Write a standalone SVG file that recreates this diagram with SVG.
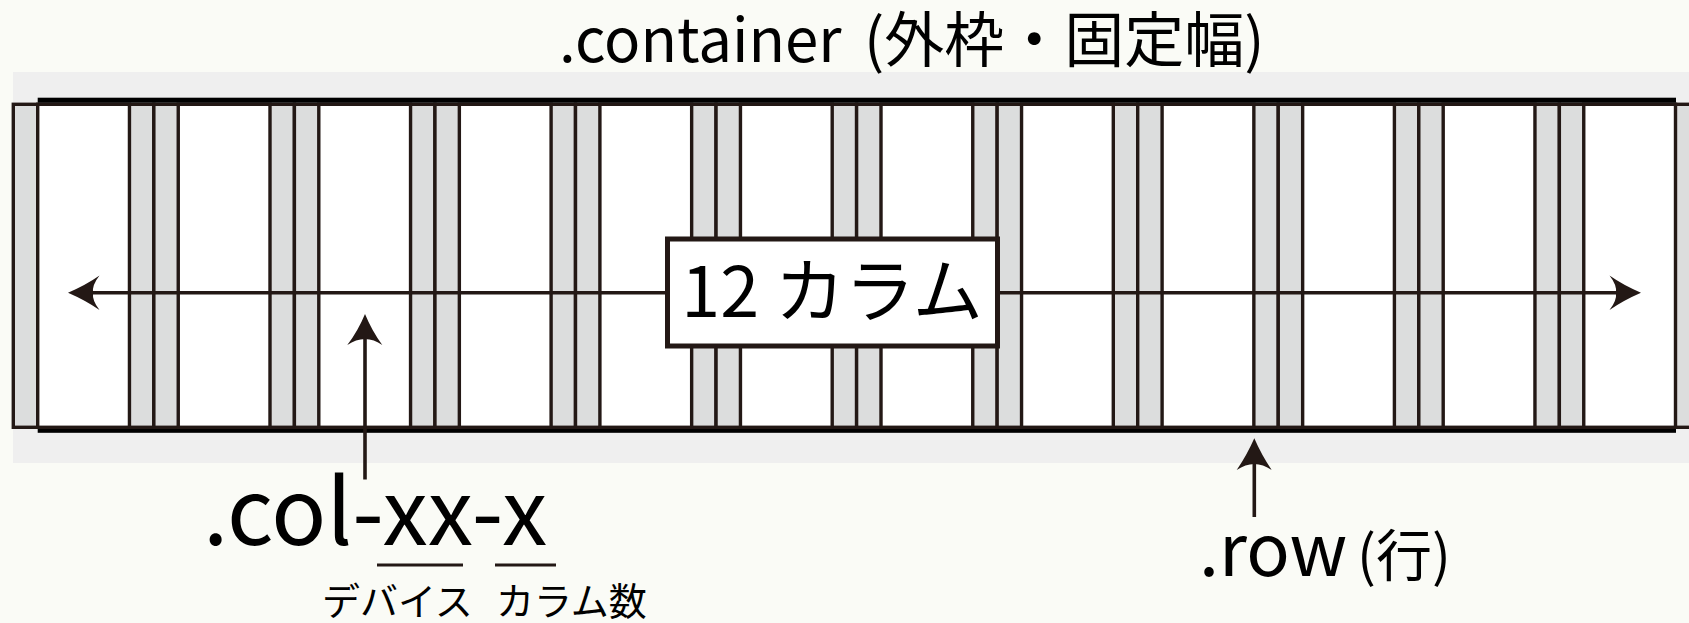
<svg xmlns="http://www.w3.org/2000/svg" width="1689" height="623" viewBox="0 0 1689 623">
<defs>
<style>
.pad{fill:#dcdddd;stroke:#231815;stroke-width:3.4}
.cnt{fill:#ffffff;stroke:#231815;stroke-width:3.4}
.ln{stroke:#231815;stroke-width:3.6;fill:none}
.ah{fill:#231815}
.t{font-family:"Noto Sans CJK JP","Noto Sans",sans-serif;fill:#000}
</style>
</defs>
<rect x="0" y="0" width="1689" height="623" fill="#fafbf6"/>
<rect id="container" x="13" y="72" width="1676" height="391" fill="#efefef"/>
<g id="title"><text class="t" y="62" font-size="60"><tspan x="559">.container</tspan><tspan x="864">(外枠・固定幅)</tspan></text></g>
<g id="columns">
<g id="col-1"><rect class="pad" x="13.3" y="104.3" width="140.55" height="323"/><rect class="cnt" x="37.7" y="104.3" width="91.75" height="323"/></g>
<g id="col-2"><rect class="pad" x="153.85" y="104.3" width="140.55" height="323"/><rect class="cnt" x="178.25" y="104.3" width="91.75" height="323"/></g>
<g id="col-3"><rect class="pad" x="294.4" y="104.3" width="140.55" height="323"/><rect class="cnt" x="318.8" y="104.3" width="91.75" height="323"/></g>
<g id="col-4"><rect class="pad" x="434.95" y="104.3" width="140.55" height="323"/><rect class="cnt" x="459.35" y="104.3" width="91.75" height="323"/></g>
<g id="col-5"><rect class="pad" x="575.5" y="104.3" width="140.55" height="323"/><rect class="cnt" x="599.9" y="104.3" width="91.75" height="323"/></g>
<g id="col-6"><rect class="pad" x="716.05" y="104.3" width="140.55" height="323"/><rect class="cnt" x="740.45" y="104.3" width="91.75" height="323"/></g>
<g id="col-7"><rect class="pad" x="856.6" y="104.3" width="140.55" height="323"/><rect class="cnt" x="881" y="104.3" width="91.75" height="323"/></g>
<g id="col-8"><rect class="pad" x="997.15" y="104.3" width="140.55" height="323"/><rect class="cnt" x="1021.55" y="104.3" width="91.75" height="323"/></g>
<g id="col-9"><rect class="pad" x="1137.7" y="104.3" width="140.55" height="323"/><rect class="cnt" x="1162.1" y="104.3" width="91.75" height="323"/></g>
<g id="col-10"><rect class="pad" x="1278.25" y="104.3" width="140.55" height="323"/><rect class="cnt" x="1302.65" y="104.3" width="91.75" height="323"/></g>
<g id="col-11"><rect class="pad" x="1418.8" y="104.3" width="140.55" height="323"/><rect class="cnt" x="1443.2" y="104.3" width="91.75" height="323"/></g>
<g id="col-12"><rect class="pad" x="1559.35" y="104.3" width="140.55" height="323"/><rect class="cnt" x="1583.75" y="104.3" width="91.75" height="323"/></g>
</g>
<g id="row">
<rect x="37.7" y="97.7" width="1638.3" height="5" fill="#000"/>
<rect x="37.7" y="429" width="1638.3" height="3.8" fill="#000"/>
</g>
<g id="connectors">
<line class="ln" x1="92" y1="292.7" x2="1618" y2="292.7"/>
<path class="ah" d="M68,292.7 Q86,285 99.5,275.5 Q92,285 93,292.7 Q92,300.5 99.5,310 Q86,300.5 68,292.7Z"/>
<path class="ah" d="M1641,292.7 Q1623,285 1609.5,275.5 Q1617,285 1616,292.7 Q1617,300.5 1609.5,310 Q1623,300.5 1641,292.7Z"/>
<line class="ln" x1="365" y1="338" x2="365" y2="479.5"/>
<path class="ah" d="M365,314 Q358,331 347.3,345 Q356,339 365,339 Q374,339 382.3,345 Q372,331 365,314Z"/>
<line class="ln" x1="1254.3" y1="462" x2="1254.3" y2="517"/>
<path class="ah" d="M1254.3,438.3 Q1247,455 1236.7,470 Q1245.5,464 1254.3,464 Q1263,464 1271.7,470 Q1261.5,455 1254.3,438.3Z"/>
<line class="ln" x1="377" y1="565" x2="463" y2="565" style="stroke-width:3"/>
<line class="ln" x1="495" y1="565" x2="556" y2="565" style="stroke-width:3"/>
</g>
<g id="label-12col">
<rect x="667.5" y="239" width="330" height="107" fill="#fff" stroke="#231815" stroke-width="5"/>
<text class="t" x="832" y="317" font-size="70" text-anchor="middle">12 カラム</text>
</g>
<g id="label-col"><text class="t" x="203" y="545" font-size="91">.col-xx-x</text></g>
<g id="label-device"><text class="t" x="322" y="615" font-size="38">デバイス</text></g>
<g id="label-colnum"><text class="t" x="496" y="615" font-size="38">カラム数</text></g>
<g id="label-row"><text class="t" y="576" font-size="72"><tspan x="1199">.row</tspan><tspan x="1357" font-size="56">(行)</tspan></text></g>
</svg>
